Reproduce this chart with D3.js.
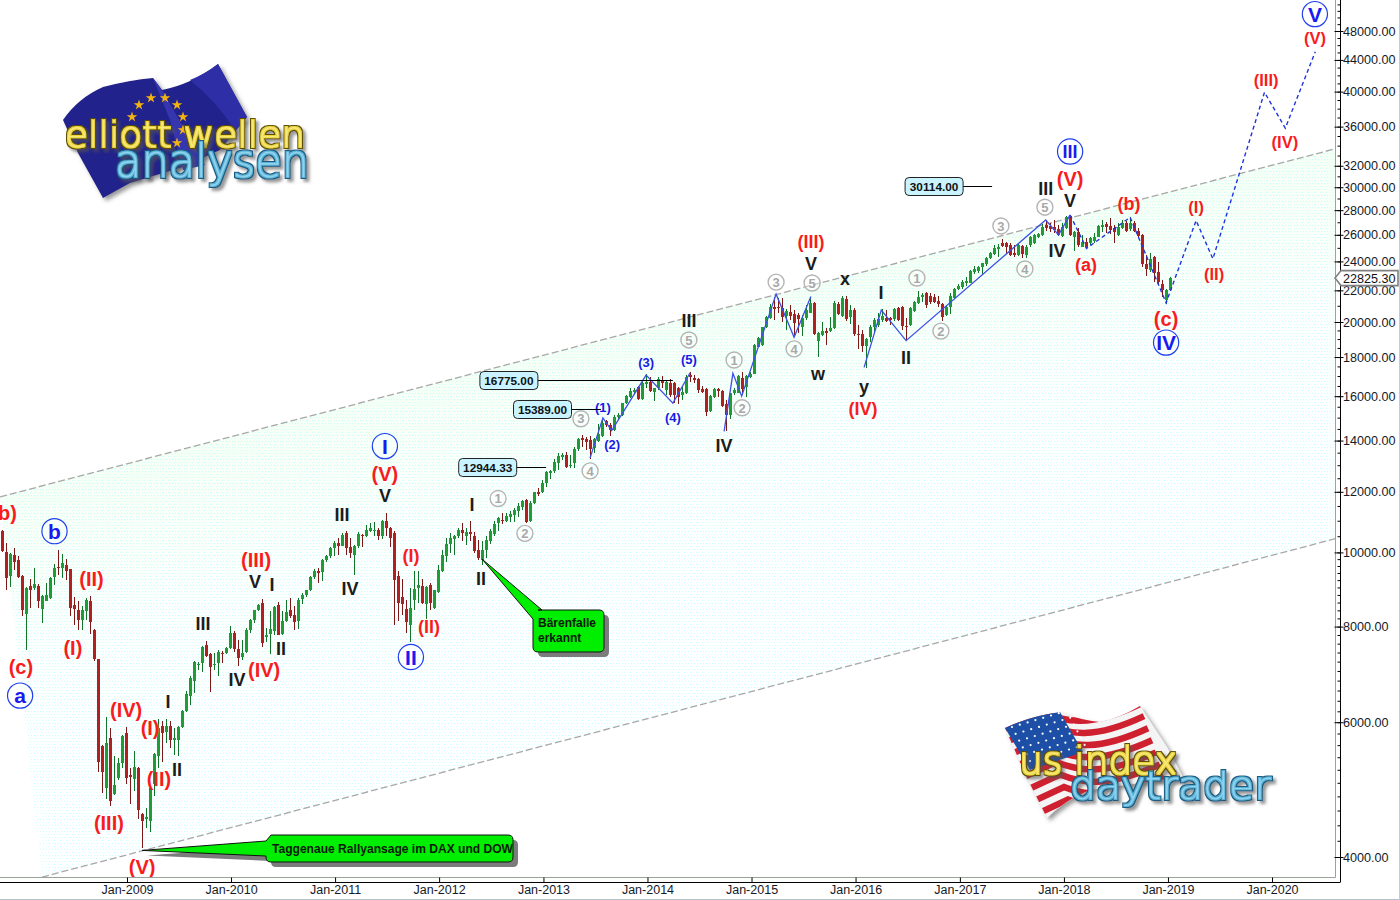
<!DOCTYPE html>
<html><head><meta charset="utf-8">
<script src="https://cdn.jsdelivr.net/npm/d3@7"></script>
<style>html,body{margin:0;padding:0;background:#fff}svg{display:block}text{font-family:"Liberation Sans",Arial,sans-serif}</style>
</head><body><svg id="c" width="1400" height="900"></svg>
<script>
// One row per two-week bar: open, high, low, close
const candles=[
[10660,10710,10000,10030],[10000,10280,8920,9270],[9310,9980,9000,9960],[9930,10130,9490,9730],[9780,9880,9250,9280],[9320,9350,8270,8420],[8320,9000,7460,8980],[9050,9230,8460,8920],[8990,9540,8940,9100],[9030,9100,8460,8650],
[8440,8800,8090,8780],[8650,9120,8630,8790],[8720,9300,8690,9270],[9300,9650,9070,9540],[9570,10080,9350,9530],[9540,9960,9250,9680],[9630,9800,9210,9470],[9510,9520,8270,8470],[8540,8740,8030,8440],[8420,8630,7910,8150],
[8150,8520,7910,8420],[8380,8710,8170,8670],[8650,8770,7830,8110],[7930,7950,7220,7260],[7250,7260,5170,5320],[5590,5610,4850,5170],[4920,6100,4760,5640],[5720,5900,4670,4740],[4830,5420,4820,4960],[5070,5390,5050,5300],
[5300,5770,5230,5760],[5800,5920,4980,5080],[5120,5230,4690,5090],[5060,5500,4880,5250],[5230,5250,4480,4610],[4550,4570,4110,4460],[4490,4640,4370,4510],[4460,4950,4310,4920],[4980,5470,4810,5460],[5420,6050,5230,5900],
[5930,6020,5330,5800],[5820,6060,5640,5930],[5940,6020,5560,5680],[5680,5900,5430,5720],[5680,5940,5420,5920],[5920,6230,5900,6210],[6200,6590,6180,6530],[6500,6890,6320,6860],[6800,7220,6560,7200],[7130,7200,7020,7150],
[7180,7550,6970,7530],[7560,7670,7310,7330],[7370,7380,6570,7080],[7120,7400,7020,7150],[7180,7460,6900,7420],[7400,7440,7170,7370],[7380,7530,7370,7510],[7490,8010,7470,7840],[7840,7900,7420,7470],[7470,7690,7110,7280],
[7310,7690,7230,7400],[7420,7970,7380,7930],[7930,8190,7840,8170],[8170,8420,8090,8400],[8400,8560,8380,8530],[8590,8700,7530,7610],[7750,7970,7630,7790],[7820,8380,7370,7950],[7890,8500,7810,8480],[8540,8620,7790,7810],
[7830,8380,7810,8140],[8130,8670,8110,8360],[8420,8710,8210,8250],[8290,8520,7930,8110],[8130,8710,7950,8670],[8700,8840,8570,8800],[8800,8940,8740,8920],[8940,9310,8910,9300],[9300,9510,9230,9470],[9470,9540,9120,9390],
[9440,9800,9170,9780],[9780,9920,9730,9880],[9880,10150,9830,10130],[10130,10360,9880,10280],[10280,10440,9930,10200],[10210,10600,10180,10550],[10600,10660,9930,10130],[10160,10440,9830,9980],[9930,10230,9350,10200],[10180,10630,10130,10570],
[10550,10580,10160,10500],[10500,10870,10480,10690],[10680,10920,10630,10760],[10660,10950,10500,10690],[10690,10760,10370,10500],[10500,11040,10410,11000],[10980,11250,10500,10760],[10750,10790,10160,10440],[10600,10660,8030,9210],[9320,9450,8130,8590],
[8750,9220,8290,8550],[8440,8670,7850,8110],[8050,8980,7630,8460],[8670,9450,8420,8950],[8980,9470,8590,9070],[9040,9240,8550,8600],[8550,9040,8190,9010],[9070,9120,8420,8590],[8460,8940,8440,8930],[8870,9630,8850,9490],
[9450,10060,9420,9930],[9900,10440,9730,10260],[10260,10600,9980,10440],[10420,10550,9930,10520],[10500,10760,10440,10690],[10710,10920,10340,10600],[10520,10760,10230,10630],[10640,10980,10340,10580],[10500,10630,9980,10030],[10060,10390,9780,9830],
[9780,10340,9630,10060],[10080,10500,9830,10390],[10340,10740,10260,10660],[10580,10980,10500,10900],[10920,11140,10660,11080],[11040,11250,10900,10980],[10980,11250,10950,11160],[11140,11310,10950,11230],[11200,11430,10950,11370],[11310,11600,11140,11490],
[11470,11720,11370,11660],[11720,11740,10920,10950],[10980,11660,10950,11600],[11600,12010,11580,11980],[11980,12130,11860,11930],[11980,12440,11950,12340],[12310,12760,12180,12720],[12690,12800,12470,12760],[12760,13240,12690,13140],[13100,13480,12800,13370],
[13320,13500,13210,13410],[13410,13540,12890,12930],[12950,13410,12890,13020],[13080,13720,12890,13640],[13640,14100,13580,14060],[14100,14240,13720,14030],[14070,14170,13610,13960],[14030,14200,13240,13640],[13680,14100,13480,14060],[13990,14710,13960,14260],
[14200,14930,14170,14750],[14860,14900,14570,14680],[14680,14780,14200,14460],[14460,15130,14430,15020],[15020,15200,14900,15130],[15130,15690,15080,15660],[15690,16060,15630,16010],[15980,16380,15900,16250],[16220,16380,16060,16300],[16430,16500,15820,15850],
[15850,16800,15820,16630],[16600,17130,16380,16680],[16720,16970,16220,16270],[16220,16400,15790,16380],[16380,16930,16300,16830],[16770,17000,16380,16670],[16300,16770,16060,16720],[16670,16830,15950,16060],[16630,16720,15660,16060],[16380,16470,15640,15980],
[16060,16470,15820,16220],[16140,17050,16120,16970],[17050,17220,16720,16940],[16920,17050,16630,16800],[16850,16880,16170,16300],[16330,16500,16170,16220],[16350,16380,15080,15270],[15300,16060,15270,16030],[15980,16380,15900,16330],[16330,16420,15980,16270],
[16270,16300,15510,15540],[15630,15820,14390,15120],[15120,16170,14930,16140],[16140,16380,16060,16300],[16170,17050,16140,17000],[16880,17220,16110,16330],[16470,17050,15980,17000],[16970,17220,16880,17130],[17130,18700,17090,18660],[18570,19140,18530,19040],
[18660,19720,18610,19680],[19700,20360,19620,20280],[20220,21110,20160,20900],[20940,21590,20120,20810],[20940,21480,20520,20830],[20880,21480,20020,20280],[20360,20770,19520,20690],[20620,21040,20120,20360],[20480,20730,19150,19920],[20420,20520,19330,20160],
[19700,20420,19150,20220],[20220,21040,20120,20730],[20560,21480,20520,21150],[21190,21260,19230,19280],[18900,19430,18020,19330],[19230,20020,19180,19470],[19470,19620,18660,19330],[19480,20280,19430,19620],[19620,21330,19560,21190],[21110,21260,20420,20460],
[20360,21630,20320,21480],[21440,21630,20080,20160],[20280,21040,19880,20730],[20730,20830,19180,19280],[19280,19820,18430,19230],[19280,19520,18250,18610],[18610,19040,17400,18990],[19100,19820,18860,19720],[19700,20220,19330,20120],[19820,20520,19720,20160],
[20120,20770,20020,20360],[20220,20730,20020,20060],[20220,20320,19820,20120],[20160,20830,20080,20770],[20830,20940,20080,20120],[20900,20980,19520,19760],[19760,20220,18950,19700],[19820,20940,19760,20830],[20690,21330,20620,21260],[21190,21960,21110,21590],
[21590,21810,21260,21700],[21850,21920,20830,21040],[21630,21850,21110,21260],[21550,21770,21150,21260],[21330,21630,20940,21110],[21110,21190,20080,20280],[20420,21040,20360,20900],[20900,21810,20480,21630],[21480,22140,21410,22070],[22070,22430,22030,22290],
[22210,22700,22070,22590],[22470,22930,22290,22650],[22520,23390,22470,23340],[23270,23680,23100,23440],[23340,23680,23150,23580],[23580,23910,23100,23860],[23810,24300,23680,24220],[24220,24720,24150,24590],[24540,25220,24470,24970],[24890,25300,24340,25090],
[25400,25650,25040,25140],[25350,25480,24540,25090],[25220,25350,24390,24470],[24640,25220,24340,24470],[24470,25350,24390,25220],[25170,25220,24220,24550],[24470,25220,24220,25090],[25220,25910,25090,25800],[25350,26070,25300,25960],[25800,26170,25730,26070],
[25960,26860,25910,26640],[26780,27190,26330,26510],[26700,26920,26250,26490],[26590,27190,26120,26380],[26430,26780,25910,25990],[25910,26920,25860,26590],[26510,27530,26430,27420],[27530,27600,25910,25990],[25800,26330,24790,26250],[26250,26510,25090,25220],
[25090,25990,25040,25470],[25470,25730,24890,25040],[25350,25800,25220,25730],[25550,26120,25350,25860],[25860,26780,25800,26700],[26590,27190,26250,26780],[26840,27050,26120,26640],[26700,27330,26070,26380],[26560,26780,25400,26250],[25990,26970,25910,26640],
[26560,27190,26430,26970],[26970,27140,26250,26330],[26430,27420,26330,26970],[26970,27140,26250,26300],[26300,26510,25800,25910],[25960,26070,23630,23800],[23820,24470,22970,23440],[23390,24590,23270,24150],[24300,24390,22590,23150],[23270,23980,22430,22590],
[22430,22700,21590,21990],[21370,22070,21110,22030],[22030,22880,21990,22825.3]];
const lastClose=22825.30;
const priceTicks=[4000,6000,8000,10000,12000,14000,16000,18000,20000,22000,24000,26000,28000,30000,32000,36000,40000,44000,48000];
const yearTicks=["2009","2010","2011","2012","2013","2014","2015","2016","2017","2018","2019","2020"];
// Trend channel: [bar index, price]
const channelUpper=[[-0.6,11820],[333.2,33680]];
const channelLower=[[9.9,3766],[333.2,10420]];
// Wave lines: [bar index, price]
const waveA=[[146.9,13290],[150.1,14990],[152.3,14430],[160.9,17050],[167.6,15670],[171.9,17170]];
const waveB=[[180.4,14390],[182.6,17140],[184.8,16000],[193.4,21750],[197.9,19100],[202.1,21590]];
const waveC=[[215.4,17450],[219.7,20730],[225.9,18910],[260.8,27190],[264,25990],[266.9,27600]];
const waveForecast=[[266.9,27600],[271,24960],[281.9,27400],[290.9,21190],[298.4,27140],[302.6,24190],[315.5,39920],[320.7,35840],[328.2,45100]];
// Price levels with their boxes: [value, box-centre bar, line-end bar]
const levels=[[30114,232.9,247.4],[16775,126.6,167.6],[15389,135,149.6],[12944.33,121.3,135.9]];
// Wave labels: [text, bar index, price]
const redLarge=[["(b)",0.4,11270],["(c)",4.6,7090],["(II)",22.25,9240],["(I)",17.6,7500],["(IV)",30.9,6230],["(I)",36.9,5900],["(II)",39.1,5060],["(III)",26.6,4430],["(V)",34.9,3880],["(III)",63.4,9780],["(IV)",65.4,7030],["(V)",95.6,12670],["(V)",266.9,30800],["(c)",290.9,20180]];
const redMedium=[["(I)",102.1,9900],["(II)",106.6,8000],["(III)",202.1,25450],["(IV)",215.1,15400],["(a)",270.9,23790],["(b)",281.6,28600]];
const redSmall=[["(I)",298.4,28250],["(II)",302.9,23120],["(III)",315.9,41400],["(IV)",320.6,34400],["(V)",328.1,47000]];
const blackLabels=[["I",41.4,6380],["II",43.6,5200],["III",50.1,8070],["IV",58.6,6820],["V",63.1,9160],["I",67.4,9080],["II",69.6,7480],["III",84.9,11200],["IV",86.9,8970],["V",95.6,11860],["I",117.4,11540],["II",119.6,9240],["III",171.6,20120],["IV",180.4,13780],["V",202.1,23860],["x",210.6,22770],["w",203.9,17150],["y",215.4,16450],["I",219.6,21830],["II",225.9,18000],["III",260.8,29900],["V",266.9,28860],["IV",263.6,24780]];
const blueSmall=[["(1)",150.1,15490],["(2)",152.4,13850],["(3)",160.9,17730],["(4)",167.6,15000],["(5)",171.6,17890]];
const grayCircled=[["1",123.9,11760],["2",130.6,10590],["3",144.6,14950],["4",146.9,12780],["5",171.6,18950],["1",182.9,17840],["2",184.9,15450],["3",193.4,22550],["4",197.9,18450],["5",202.4,22490],["1",228.6,22830],["2",234.6,19460],["3",249.6,26700],["4",255.6,23460],["5",260.6,28250]];
const blueCircled=[["b",13,10660],["a",4.4,6500],["I",95.6,13770],["II",102.1,7300],["III",266.9,33400],["IV",290.9,18800],["V",328.1,50500]];
const callouts=[["Taggenaue Rallyansage im DAX und DOW",34.9,4080],["Bärenfalle|erkannt",119.9,9800]];

const svg=d3.select("#c");
const x=d3.scaleLinear().domain([0,292]).range([2.5,1170.5]);
const y=d3.scaleLog().domain([4000,48000]).range([857,31]);
const xTime=d3.scaleUtc().domain([new Date(Date.UTC(2009,0,1)),new Date(Date.UTC(2020,0,1))]).range([127,1272]);
const P=d=>[x(d[0]),y(d[1])];

const defs=svg.append("defs");
const pat=defs.append("pattern").attr("id","dots").attr("width",6).attr("height",6).attr("patternUnits","userSpaceOnUse");
[[0,0,"#ccffff"],[3,0,"#ffffc4"],[1,3,"#d4ffdc"],[4,3,"#ccffff"]].forEach(a=>pat.append("rect").attr("x",a[0]).attr("y",a[1]).attr("width",1).attr("height",1).attr("fill",a[2]));
const gr=defs.append("linearGradient").attr("id","tint").attr("gradientUnits","userSpaceOnUse").attr("x1",700).attr("y1",320).attr("x2",795).attr("y2",685);
[[0,"#ecffea",0.5],[0.4,"#f6fff8",0.3],[1,"#fbffff",0.1]].forEach(a=>gr.append("stop").attr("offset",a[0]).attr("stop-color",a[1]).attr("stop-opacity",a[2]));
const sh=defs.append("filter").attr("id","sh").attr("x","-10%").attr("y","-10%").attr("width","125%").attr("height","130%");
sh.append("feDropShadow").attr("dx",3).attr("dy",3).attr("stdDeviation",2).attr("flood-color","#555").attr("flood-opacity",0.6);
// tube-look lettering: dark outline, coloured body, light core, soft shadow
function tube(id,dark,body,core){
  const f=defs.append("filter").attr("id",id).attr("x","-8%").attr("y","-25%").attr("width","116%").attr("height","160%");
  f.append("feMorphology").attr("in","SourceAlpha").attr("operator","dilate").attr("radius",1.9).attr("result","o");
  f.append("feFlood").attr("flood-color",dark); f.append("feComposite").attr("in2","o").attr("operator","in").attr("result","oc");
  f.append("feMorphology").attr("in","SourceAlpha").attr("operator","dilate").attr("radius",1).attr("result","b");
  f.append("feFlood").attr("flood-color",body); f.append("feComposite").attr("in2","b").attr("operator","in").attr("result","bc");
  f.append("feFlood").attr("flood-color",core); f.append("feComposite").attr("in2","SourceAlpha").attr("operator","in").attr("result","cc");
  f.append("feGaussianBlur").attr("in","o").attr("stdDeviation",1.6).attr("result","bl");
  f.append("feOffset").attr("in","bl").attr("dx",3).attr("dy",3).attr("result","off");
  f.append("feFlood").attr("flood-color","#555").attr("flood-opacity",0.6); f.append("feComposite").attr("in2","off").attr("operator","in").attr("result","sc");
  const m=f.append("feMerge"); ["sc","oc","bc","cc"].forEach(n=>m.append("feMergeNode").attr("in",n));
}
tube("tubeY","#5e4f05","#ecd43e","#f7e87a");
tube("tubeB","#1a5a80","#58b2d8","#8fd2ec");

// channel fill
const poly=[...channelUpper,...channelLower.slice().reverse()].map(P);
const polyPath="M"+poly.map(p=>p.join(",")).join("L")+"Z";
svg.append("path").attr("d",polyPath).attr("fill","url(#tint)");
svg.append("path").attr("d",polyPath).attr("fill","url(#dots)");

// ---- Logos (decoration, drawn behind the chart) ----
function logoText(g,t,px,py,size,len,fid){
  g.append("text").attr("x",px).attr("y",py).attr("font-size",size).attr("textLength",len).attr("lengthAdjust","spacingAndGlyphs").style("font-family","'DejaVu Sans'").style("font-weight","200").attr("filter",`url(#${fid})`).attr("fill","#000").text(t);
}
const L1=svg.append("g");
L1.append("path").attr("d","M63,120Q78,98 103,87Q130,80 153,78L162,90Q192,84 218,64L247,117L220,150L183,167L130,183L103,198L78,153Z").attr("fill","#24248c").attr("filter","url(#sh)");
L1.append("path").attr("d","M153,78L162,90L205,165L183,170L170,120Z").attr("fill","#3535ae");
L1.append("path").attr("d","M190,80Q205,74 218,64L247,117L235,130Q215,100 190,80Z").attr("fill","#2e2ea6");
[[139,105],[151,98],[165,98],[177,105],[183,117],[132,117],[183,130],[177,143]].forEach(s=>L1.append("path").attr("transform",`translate(${s[0]},${s[1]})`).attr("d",d3.symbol(d3.symbolStar,34)()).attr("fill","#f2b211"));
logoText(L1,"elliott wellen",65,147,35,240,"tubeY");
logoText(L1,"analysen",115,177,46,194,"tubeB");

const L2=svg.append("g");
const flagD="M1005,728Q1030,716 1060,712Q1080,720 1100,722Q1120,718 1140,706L1167,747L1183,777L1090,790Q1065,800 1047,818L1027,778Z";
defs.append("clipPath").attr("id","fc").append("path").attr("d",flagD);
L2.append("path").attr("d",flagD).attr("fill","#f4f4f4").attr("filter","url(#sh)");
const st=L2.append("g").attr("clip-path","url(#fc)");
d3.range(0,9).forEach(k=>{
  const x0=1040+k*4,y0=712+k*12.5;
  st.append("path").attr("d",`M${x0-60},${y0+28}L${x0},${y0}C${x0+25},${y0+10} ${x0+50},${y0+16-k*.8} ${x0+100},${y0-8-k*.4}`).attr("fill","none").attr("stroke","#cf2030").attr("stroke-width",6.5);
});
L2.append("path").attr("d","M1005,728Q1030,716 1060,712L1083,752L1030,770Z").attr("fill","#1d4fa6");
for(let r=0;r<6;r++)for(let c=0;c<8;c++){
  L2.append("circle").attr("cx",1012+c*7.8+r*3.6).attr("cy",727-c*2.3+r*6.8).attr("r",1.1).attr("fill","#fff");
}
logoText(L2,"us index",1019,774,37,158,"tubeY");
logoText(L2,"daytrader",1070,799,38,201,"tubeB");

// channel lines
[channelUpper,channelLower].forEach(c=>svg.append("line").attr("x1",x(c[0][0])).attr("y1",y(c[0][1])).attr("x2",x(c[1][0])).attr("y2",y(c[1][1])).attr("stroke","#a8a8a8").attr("stroke-width",1.3).attr("stroke-dasharray","7 3"));

// candles
const cg=svg.append("g").selectAll("g").data(candles).join("g");
const up=d=>d[3]>=d[0];
cg.append("rect").attr("x",(d,i)=>x(i)-0.5).attr("width",1).attr("y",d=>Math.round(y(d[1]))).attr("height",d=>Math.max(1,Math.round(y(d[2]))-Math.round(y(d[1])))).attr("fill",d=>up(d)?"#10752a":"#7d1616");
cg.append("rect").attr("x",(d,i)=>x(i)-1.5).attr("width",3).attr("y",d=>Math.round(y(Math.max(d[0],d[3])))).attr("height",d=>Math.max(1,Math.round(y(Math.min(d[0],d[3])))-Math.round(y(Math.max(d[0],d[3]))))).attr("fill",d=>up(d)?"#1f9c33":"#b02020");

// wave lines
const line=d3.line().x(d=>x(d[0])).y(d=>y(d[1]));
[waveA,waveB,waveC].forEach(w=>svg.append("path").attr("d",line(w)).attr("fill","none").attr("stroke","#3c50e8").attr("stroke-width",1.3));
svg.append("path").attr("d",line(waveForecast)).attr("fill","none").attr("stroke","#1f33e0").attr("stroke-width",1.4).attr("stroke-dasharray","4 3");

// labels
function labels(arr,size,col){
  svg.append("g").selectAll("text").data(arr).join("text").attr("x",d=>x(d[1])).attr("y",d=>y(d[2])).attr("dy","0.36em").attr("text-anchor","middle").attr("font-weight","bold").attr("font-size",size).attr("fill",col).text(d=>d[0]);
}
labels(redLarge,20,"#f81c1c");labels(redMedium,18,"#f81c1c");labels(redSmall,16.5,"#f81c1c");
labels(blackLabels,18,"#1c1c1c");labels(blueSmall,13,"#1a1ae6");
const gc=svg.append("g").selectAll("g").data(grayCircled).join("g").attr("transform",d=>`translate(${x(d[1])},${y(d[2])})`);
gc.append("circle").attr("r",8).attr("fill","#fff").attr("fill-opacity",0.4).attr("stroke","#b4b4b4").attr("stroke-width",1.4);
gc.append("text").attr("text-anchor","middle").attr("dy","0.36em").attr("font-size",13).attr("font-weight","bold").attr("fill","#a8a8a8").text(d=>d[0]);
const bc=svg.append("g").selectAll("g").data(blueCircled).join("g").attr("transform",d=>`translate(${x(d[1])},${y(d[2])})`);
bc.append("circle").attr("r",12.6).attr("fill","#fff").attr("fill-opacity",0.3).attr("stroke","#2040f0").attr("stroke-width",1.2);
bc.append("text").attr("text-anchor","middle").attr("dy","0.36em").attr("font-size",d=>d[0].length>2?18:21).attr("font-weight","bold").attr("fill","#1a1af0").text(d=>d[0]);

// level boxes
const lv=svg.append("g").selectAll("g").data(levels).join("g");
lv.append("line").attr("x1",d=>x(d[1])+29).attr("x2",d=>x(d[2])).attr("y1",d=>Math.round(y(d[0]))+.5).attr("y2",d=>Math.round(y(d[0]))+.5).attr("stroke","#000");
lv.append("rect").attr("x",d=>x(d[1])-29).attr("y",d=>Math.round(y(d[0]))-8.5).attr("width",58).attr("height",18).attr("rx",4).attr("fill","#c9f4ff").attr("stroke","#222").attr("stroke-width",1);
lv.append("text").attr("x",d=>x(d[1])).attr("y",d=>Math.round(y(d[0]))+.5).attr("dy","0.36em").attr("text-anchor","middle").attr("font-size",11.8).attr("font-weight","bold").attr("fill","#111").text(d=>d3.format(".2f")(d[0]));

// green call-outs (pointer tip comes from the data)
function bubble(tip,bx,by,bw,bh,t1,t2,tx,ty,lines,len){
  const d=`M${tip[0]},${tip[1]}L${t1[0]},${t1[1]}L${bx+5},${by}H${bx+bw-5}Q${bx+bw},${by} ${bx+bw},${by+5}V${by+bh-5}Q${bx+bw},${by+bh} ${bx+bw-5},${by+bh}H${bx+5}Q${bx},${by+bh} ${bx},${by+bh-5}V${t2[1]}L${t2[0]},${t2[1]}Z`;
  const g=svg.append("g");
  g.append("path").attr("d",d).attr("transform","translate(5,5)").attr("fill","#7c7c7c");
  g.append("path").attr("d",d).attr("fill","#00ee00").attr("stroke","#111").attr("stroke-width",1);
  lines.forEach((s,i)=>{const tt=g.append("text").attr("x",tx).attr("y",ty+i*15).attr("font-size",12).attr("font-weight","bold").attr("fill","#0a1a0a").text(s); if(len)tt.attr("textLength",len).attr("lengthAdjust","spacingAndGlyphs");});
}
const c0=callouts[0],c1=callouts[1];
bubble(P([c0[1],c0[2]]),266,835,247,27,[266,841],[266,856],272,853,c0[0].split("|"),241);
bubble(P([c1[1],c1[2]]),533,610,71,42,[542,610],[533,619],538,627,c1[0].split("|"),0);

// frame + axes
svg.append("line").attr("x1",1335.5).attr("x2",1335.5).attr("y1",0).attr("y2",877.5).attr("stroke","#98a498");
svg.append("line").attr("x1",0).attr("x2",1335.5).attr("y1",877.5).attr("y2",877.5).attr("stroke","#98a498");
const minor=[];
for(let v=4000;v<10000;v+=200)minor.push(v);
for(let v=10000;v<20000;v+=500)minor.push(v);
for(let v=20000;v<=53000;v+=1000)minor.push(v);
const ayMinor=svg.append("g").attr("transform","translate(1340.5,0)").call(d3.axisLeft(y).tickValues(minor).tickSize(3).tickFormat(""));
ayMinor.select(".domain").remove();
ayMinor.selectAll("line").attr("stroke","#000");
const ay=svg.append("g").attr("transform","translate(1340.5,0)").call(d3.axisRight(y).tickValues(priceTicks).tickSizeInner(3).tickSizeOuter(0).tickPadding(0).tickFormat(d3.format(".2f")));
ay.select(".domain").remove();
ay.selectAll("line").attr("stroke","#000").attr("x1",-6);
ay.selectAll("text").attr("font-size",12.6).attr("font-family",null).attr("fill","#141a28").attr("x",2.6);
svg.append("line").attr("x1",1340.5).attr("x2",1340.5).attr("y1",0).attr("y2",882).attr("stroke","#000");
const ax=svg.append("g").attr("transform","translate(0,882.5)").call(d3.axisBottom(xTime).tickValues(yearTicks.map(s=>new Date(Date.UTC(+s,0,1)))).tickSizeInner(-5).tickSizeOuter(0).tickPadding(3).tickFormat(d3.utcFormat("Jan-%Y")));
ax.select(".domain").remove();
ax.selectAll("line").attr("stroke","#000");
ax.selectAll("text").attr("font-size",12.5).attr("font-family",null).attr("fill","#141a28");
svg.append("line").attr("x1",0).attr("x2",1340.5).attr("y1",882.5).attr("y2",882.5).attr("stroke","#000");
svg.append("line").attr("x1",0).attr("x2",1400).attr("y1",899.5).attr("y2",899.5).attr("stroke","#b6bfd0");
svg.append("line").attr("x1",1399.5).attr("x2",1399.5).attr("y1",0).attr("y2",900).attr("stroke","#c4cbd8");

// last price tag
const ly=y(lastClose);
svg.append("path").attr("d",`M1335,${ly}L1341,${ly-7.5}H1398V${ly+7.5}H1341Z`).attr("fill","#fff").attr("stroke","#808080").attr("stroke-width",1.6);
svg.append("text").attr("x",1343).attr("y",ly).attr("dy","0.36em").attr("font-size",12.6).attr("fill","#111").text(d3.format(".2f")(lastClose));
</script></body></html>
